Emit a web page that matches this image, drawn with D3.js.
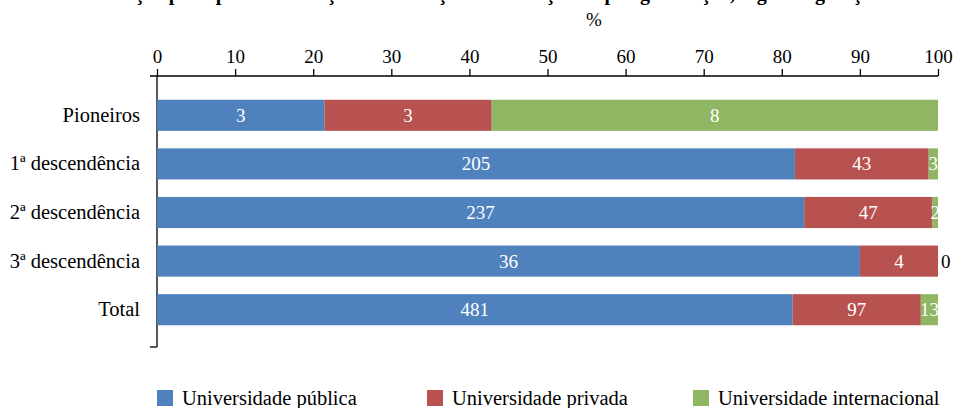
<!DOCTYPE html>
<html><head><meta charset="utf-8">
<script src="https://cdn.jsdelivr.net/npm/d3@7"></script>
<style>body{margin:0;background:#fff}svg{display:block}</style>
</head><body><svg id="c" width="955" height="408" style="font-family:'Liberation Serif','DejaVu Serif',serif"></svg>
<script>
const categories = ["Pioneiros","1ª descendência","2ª descendência","3ª descendência","Total"];
const seriesNames = ["Universidade pública","Universidade privada","Universidade internacional"];
const publica = [3,205,237,36,481];
const privada = [3,43,47,4,97];
const internacional = [8,3,2,0,13];
const xTicks = [0,10,20,30,40,50,60,70,80,90,100];
const colors = ["#4F81BD","#B85251","#8FB662"];
const title = "Distribuição por tipo de instituição de formação e instituição de pós-graduação, segundo geração";
const FONT = "Liberation Serif";

const svg = d3.select("#c");
const x = d3.scaleLinear().domain([0,100]).range([157,938]);
const y = d3.scaleBand().domain(categories).range([91,334]).paddingInner(0.36).paddingOuter(0.18);

const rows = categories.map((c,i)=>{
  const vals=[publica[i],privada[i],internacional[i]];
  const tot=d3.sum(vals);
  let acc=0;
  return vals.map((v,k)=>{const s=acc; acc+=v/tot*100; return {c,k,v,x0:s,x1:acc};});
});

// title (clipped at top, as in the reference)
svg.append("text").attr("x",470).attr("y",0).attr("text-anchor","middle").attr("font-family",FONT)
  .attr("font-size",20).attr("font-weight","bold").attr("fill","#000").text(title);
svg.append("text").attr("x",594).attr("y",26).attr("text-anchor","middle").attr("font-family",FONT).attr("font-size",19).attr("fill","#000").text("%");

// x axis on top
const xa = svg.append("g").attr("transform","translate(0,76)")
  .call(d3.axisTop(x).tickValues(xTicks).tickSize(7).tickSizeOuter(0).tickPadding(6));
xa.attr("font-family",FONT).attr("font-size",19);
xa.select(".domain").remove();
xa.selectAll("line").attr("stroke","#000").attr("stroke-width",1.3);
xa.selectAll("text").attr("fill","#000");
svg.append("line").attr("x1",150).attr("x2",x(100)).attr("y1",76).attr("y2",76).attr("stroke","#000").attr("stroke-width",1.3);
// y axis
svg.append("line").attr("x1",157).attr("x2",157).attr("y1",76).attr("y2",347).attr("stroke","#000").attr("stroke-width",1.3);
svg.append("line").attr("x1",150).attr("x2",157).attr("y1",347).attr("y2",347).attr("stroke","#000").attr("stroke-width",1.3);
svg.selectAll(".cat").data(categories).enter().append("text").attr("font-family",FONT)
  .attr("x",140).attr("y",d=>y(d)+y.bandwidth()/2+6.5).attr("text-anchor","end")
  .attr("font-size",20.5).attr("fill","#000").text(d=>d);

// bars
const seg = rows.flat();
svg.selectAll(".bar").data(seg).enter().append("rect")
  .attr("x",d=>x(d.x0)).attr("width",d=>x(d.x1)-x(d.x0))
  .attr("y",d=>y(d.c)).attr("height",y.bandwidth()).attr("fill",d=>colors[d.k]);
svg.selectAll(".lbl").data(seg).enter().append("text").attr("font-family",FONT)
  .attr("x",d=>d.v===0?x(d.x1)+3:(x(d.x0)+x(d.x1))/2)
  .attr("y",d=>y(d.c)+y.bandwidth()/2+6.5)
  .attr("text-anchor",d=>d.v===0?"start":"middle")
  .attr("font-size",19).attr("fill",d=>d.v===0?"#000":"#fff").text(d=>d.v);

// legend
const lx=[157,427,693];
seriesNames.forEach((n,i)=>{
  svg.append("rect").attr("x",lx[i]).attr("y",390).attr("width",16).attr("height",16).attr("fill",colors[i]);
  svg.append("text").attr("font-family",FONT).attr("x",lx[i]+25).attr("y",405).attr("font-size",20.5).attr("fill","#000").text(n);
});
</script></body></html>
